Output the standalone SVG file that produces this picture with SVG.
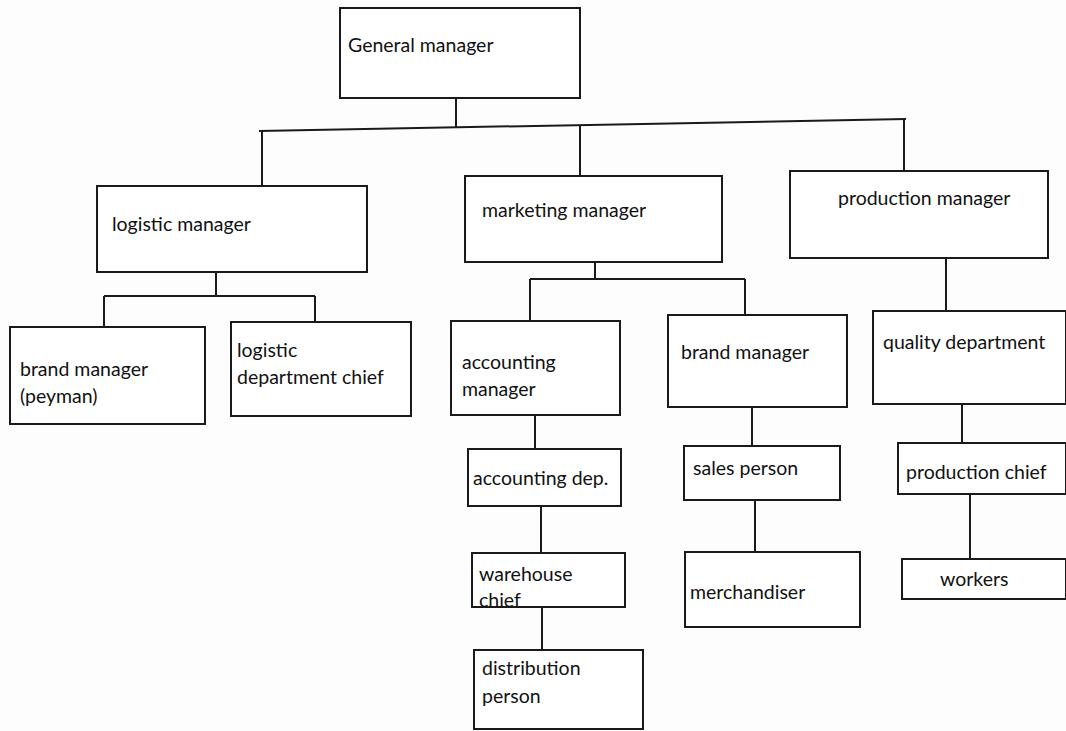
<svg xmlns="http://www.w3.org/2000/svg" width="1066" height="731" viewBox="0 0 1066 731">
<style>
.box{fill:#fff;stroke:#1a1a1a;stroke-width:2}
.ln{stroke:#1a1a1a;stroke-width:2;fill:none}
text{font-family:Lato,"Open Sans",sans-serif;font-size:19.5px;fill:#111}
</style>
<rect width="1066" height="731" fill="#fdfdfd"/>
<g id="connectors">
<path class="ln" d="M456 98V127"/>
<path class="ln" d="M259 131L906 119"/>
<path class="ln" d="M262 131V186M580 125V176M904 119V171"/>
<path class="ln" d="M216 272V296M104 296H315M104 296V327M315 296V322"/>
<path class="ln" d="M595 262V279M530 279H745M530 279V321M745 279V315"/>
<path class="ln" d="M946 258V311"/>
<path class="ln" d="M535 415V449M541 506V553M542 607V650"/>
<path class="ln" d="M752 407V446M755 500V552"/>
<path class="ln" d="M962 404V443M970 494V559"/>
</g>
<g id="general-manager"><rect class="box" x="340" y="8" width="240" height="90"/><text x="348" y="52">General manager</text></g>
<g id="logistic-manager"><rect class="box" x="97" y="186" width="270" height="86"/><text x="112" y="231">logistic manager</text></g>
<g id="marketing-manager"><rect class="box" x="465" y="176" width="257" height="86"/><text x="482" y="217">marketing manager</text></g>
<g id="production-manager"><rect class="box" x="790" y="171" width="258" height="87"/><text x="838" y="205">production manager</text></g>
<g id="brand-manager-peyman"><rect class="box" x="10" y="327" width="195" height="97"/><text x="20" y="376">brand manager</text><text x="20" y="403">(peyman)</text></g>
<g id="logistic-department-chief"><rect class="box" x="231" y="322" width="180" height="94"/><text x="237" y="357">logistic</text><text x="237" y="384">department chief</text></g>
<g id="accounting-manager"><rect class="box" x="451" y="321" width="169" height="94"/><text x="462" y="369">accounting</text><text x="462" y="396">manager</text></g>
<g id="brand-manager"><rect class="box" x="668" y="315" width="179" height="92"/><text x="681" y="359">brand manager</text></g>
<g id="quality-department"><rect class="box" x="873" y="311" width="193" height="93"/><text x="883" y="349">quality department</text></g>
<g id="accounting-dep"><rect class="box" x="468" y="449" width="153" height="57"/><text x="473" y="485">accounting dep.</text></g>
<g id="warehouse-chief"><rect class="box" x="472" y="553" width="153" height="54"/><text x="479" y="581">warehouse</text><text x="479" y="607">chief</text></g>
<g id="distribution-person"><rect class="box" x="474" y="650" width="169" height="79"/><text x="482" y="675">distribution</text><text x="482" y="703">person</text></g>
<g id="sales-person"><rect class="box" x="684" y="446" width="156" height="54"/><text x="693" y="475">sales person</text></g>
<g id="merchandiser"><rect class="box" x="685" y="552" width="175" height="75"/><text x="690" y="599">merchandiser</text></g>
<g id="production-chief"><rect class="box" x="898" y="443" width="168" height="51"/><text x="906" y="479">production chief</text></g>
<g id="workers"><rect class="box" x="902" y="559" width="164" height="40"/><text x="940" y="586">workers</text></g>
</svg>
